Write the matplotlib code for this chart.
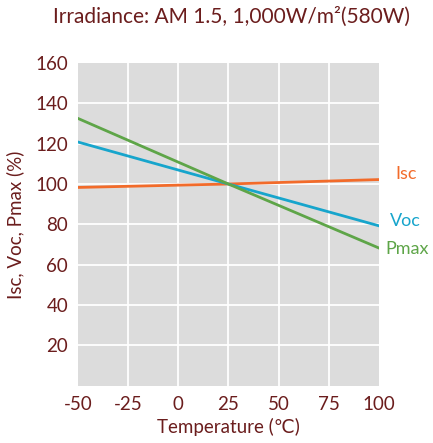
import matplotlib.pyplot as plt

# temperatura (°C) e valores relativos (%)
temperatura = [-50, 25, 100]
isc = [98.3, 100, 102.2]
voc = [120.8, 100, 79.3]
pmax = [132.5, 100, 68.3]

x_ticks = [-50, -25, 0, 25, 50, 75, 100]
y_ticks = [20, 40, 60, 80, 100, 120, 140, 160]

texto = '#6b1d1d'
cores = {'Isc': '#f26b2a', 'Voc': '#17a5cc', 'Pmax': '#5ea548'}

plt.rcParams['font.family'] = ['Lato', 'DejaVu Sans']
plt.rcParams['axes.unicode_minus'] = False

fig = plt.figure(figsize=(4.33, 4.43), dpi=100)
ax = fig.add_axes([0.180, 0.129, 0.695, 0.729])
ax.set_facecolor('#dcdcdc')

ax.plot(temperatura, isc, color=cores['Isc'], lw=2)
ax.plot(temperatura, voc, color=cores['Voc'], lw=2)
ax.plot(temperatura, pmax, color=cores['Pmax'], lw=2)

ax.set_xlim(-50, 100)
ax.set_ylim(0, 160)
ax.set_xticks(x_ticks)
ax.set_yticks(y_ticks)
ax.tick_params(length=0, labelsize=13.5, colors=texto, pad=7)

# grade branca (sem as bordas)
for xv in x_ticks[1:-1]:
    ax.axvline(xv, color='white', lw=1.3, zorder=0.5)
for yv in y_ticks[:-1]:
    ax.axhline(yv, color='white', lw=1.3, zorder=0.5)
for s in ax.spines.values():
    s.set_visible(False)

# rótulos das séries à direita
ax.annotate('Isc', xy=(100, 105), xytext=(12, 0), textcoords='offset points',
            color=cores['Isc'], fontsize=13, va='center', annotation_clip=False)
ax.annotate('Voc', xy=(100, 81.5), xytext=(8, 0), textcoords='offset points',
            color=cores['Voc'], fontsize=13, va='center', annotation_clip=False)
ax.annotate('Pmax', xy=(100, 68), xytext=(5, 0), textcoords='offset points',
            color=cores['Pmax'], fontsize=13, va='center', annotation_clip=False)

ax.set_xlabel('Temperature (℃)', color=texto, fontsize=13.5, labelpad=4)
ax.set_ylabel('Isc, Voc, Pmax (%)', color=texto, fontsize=13.5, labelpad=8)
fig.suptitle('Irradiance: AM 1.5, 1,000W/m²(580W)', color=texto, fontsize=15,
             x=0.535, y=0.985)

fig.savefig('out.png', dpi=100)
